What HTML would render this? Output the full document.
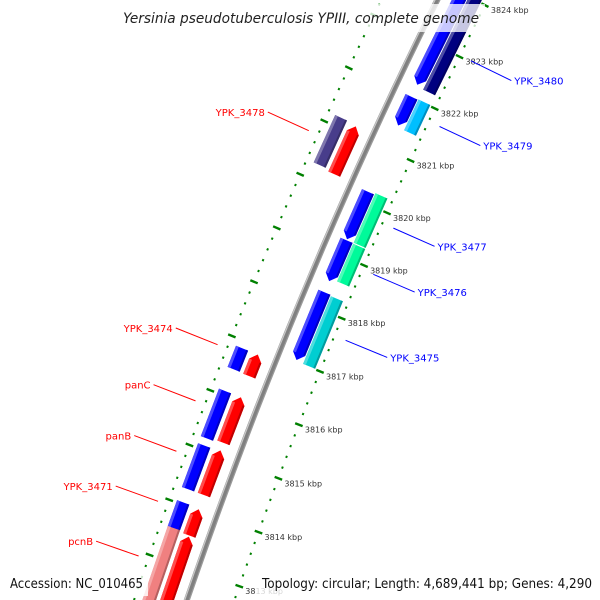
<!DOCTYPE html>
<html><head><meta charset="utf-8"><style>
html,body{margin:0;padding:0;background:#fff;width:600px;height:600px;overflow:hidden;}
svg{display:block;font-family:"DejaVu Sans","Liberation Sans",sans-serif;overflow:hidden;}
</style></head><body>
<svg id="map" width="600" height="600" viewBox="0 0 600 600" xmlns="http://www.w3.org/2000/svg">
<rect x="0" y="0" width="600" height="600" fill="#fff"/>
<g id="ticks"></g>
<g id="backbone"></g>
<g id="features"></g>
<g id="labels"></g>
<rect x="116" y="4" width="369" height="28" fill="#fff" fill-opacity="0.78"/>
<text x="123" y="23" font-size="14" font-style="italic" fill="#222" textLength="356" lengthAdjust="spacingAndGlyphs">Yersinia pseudotuberculosis YPIII, complete genome</text>
<rect x="4" y="572" width="144" height="24" fill="#fff" fill-opacity="0.8"/>
<text x="10" y="588" font-size="13" fill="#111" textLength="133" lengthAdjust="spacingAndGlyphs">Accession: NC_010465</text>
<rect x="256" y="572" width="340" height="24" fill="#fff" fill-opacity="0.8"/>
<text x="262" y="588" font-size="13" fill="#111" textLength="330" lengthAdjust="spacingAndGlyphs">Topology: circular; Length: 4,689,441 bp; Genes: 4,290</text>
</svg>
<script>
// ---- data ----
const featNames = ["YPK_3480","YPK_3480-cog","YPK_3479","YPK_3479-cog","YPK_3477","YPK_3477-cog","YPK_3476","YPK_3476-cog","YPK_3475","YPK_3475-cog","YPK_3478","YPK_3478-cog","YPK_3474","YPK_3474-cog","panC","panC-cog","panB","panB-cog","YPK_3471","YPK_3471-cog","pcnB","pcnB-cog"];
const featStart = [3822.24,3822.21,3821.46,3821.43,3819.30,3819.29,3818.51,3818.56,3817.03,3817.01,3820.24,3820.28,3816.47,3816.48,3815.24,3815.21,3814.28,3814.28,3813.54,3813.55,3811.5,3811.5];
const featEnd   = [3824.8,3824.8,3822.01,3822.02,3820.20,3820.23,3819.28,3819.27,3818.30,3818.28,3821.14,3821.17,3816.87,3816.87,3816.08,3816.08,3815.10,3815.08,3814.02,3814.04,3813.52,3813.57];
const featTrack = ["rin","rout","rin","rout","rin","rout","rin","rout","rin","rout","lin","lout","lin","lout","lin","lout","lin","lout","lin","lout","lin","lout"];
const featColor = ["#0000ff","#000080","#0000ff","#00bfff","#0000ff","#00fa9a","#0000ff","#00fa9a","#0000ff","#00ced1","#ff0000","#483d8b","#ff0000","#0000ff","#ff0000","#0000ff","#ff0000","#0000ff","#ff0000","#0000ff","#ff0000","#f08080"];
const labelNames = ["YPK_3480","YPK_3479","YPK_3477","YPK_3476","YPK_3475","YPK_3478","YPK_3474","panC","panB","YPK_3471","pcnB"];
const labelPos = [3823.02,3821.75,3819.8,3818.92,3817.67,3820.74,3816.77,3815.74,3814.82,3813.91,3812.92];
const labelSide = ["r","r","r","r","r","l","l","l","l","l","l"];
const tickValues = [3811,3812,3813,3814,3815,3816,3817,3818,3819,3820,3821,3822,3823,3824,3825];

// ---- axis ----
const CX=4914, CY=2220, R0=4997;
function ang(k){ return (-158.08 + (k-3817)*0.664)*Math.PI/180; }
function pt(k,r){ const a=ang(k); return [CX+r*Math.cos(a), CY+r*Math.sin(a)]; }
const TR = {rin:[4978,"rev"], rout:[4964,"none"], lin:[5016,"fwd"], lout:[5033,"none"]};
const HALF=6.5, HEAD=0.12;
const NS="http://www.w3.org/2000/svg";
function el(tag, parent){ const e=document.createElementNS(NS,tag); parent.appendChild(e); return e; }
function P(arr){ return arr.map(p=>p[0].toFixed(1)+","+p[1].toFixed(1)).join(" "); }
function shade(hex,f){ let n=parseInt(hex.slice(1),16); let c=[n>>16,(n>>8)&255,n&255];
  c=c.map(v=> f>0? Math.round(v+(255-v)*f) : Math.round(v*(1+f))); return "rgb("+c.join(",")+")"; }

// ticks
const tg=document.getElementById("ticks");
[4952,5047].forEach((rr,side)=>{
  for(let k=3810; k<=3826.001; k+=0.2){
    const kk=Math.round(k*10)/10;
    const major=Math.abs(kk-Math.round(kk))<1e-6;
    const a=pt(kk,major?rr-4:rr-1), b=pt(kk,major?rr+4:rr+1);
    const t=el("line",tg);
    
    
    t.setAttribute("x1",a[0]);t.setAttribute("y1",a[1]);t.setAttribute("x2",b[0]);t.setAttribute("y2",b[1]);
    t.setAttribute("stroke","#008000");t.setAttribute("stroke-width",major?"2.4":"2.2");
  }
});
tickValues.forEach(v=>{
  const p=pt(v,4952);
  const t=el("text",tg);
  
  
  t.setAttribute("x",p[0]+6);t.setAttribute("y",p[1]+8);
  t.setAttribute("font-size","8");t.setAttribute("fill","#333");
  t.textContent=v+" kbp";
});

// backbone
const bg=document.getElementById("backbone");
[[6,"#9a9a9a"],[3.5,"#808080"]].forEach(([w,c],i)=>{
  const pts=[]; for(let k=3810;k<=3826;k+=0.5) pts.push(pt(k,R0));
  const l=el("polyline",bg);
  
  
  l.setAttribute("points",P(pts));l.setAttribute("fill","none");l.setAttribute("stroke",c);l.setAttribute("stroke-width",w);
});
{ const pts=[]; for(let k=3810;k<=3826;k+=0.5) pts.push(pt(k,R0+2));
  const l=el("polyline",bg);
  
  
  l.setAttribute("points",P(pts));l.setAttribute("fill","none");l.setAttribute("stroke","#c8c8c8");l.setAttribute("stroke-width","1.2"); }

// features
const fg=document.getElementById("features");
function shape(k1,k2,rA,rB,dir){
  const rm=(rA+rB)/2;
  if(dir==="fwd") return [pt(k1,rA),pt(k2-HEAD,rA),pt(k2,rm),pt(k2-HEAD,rB),pt(k1,rB)];
  if(dir==="rev") return [pt(k2,rA),pt(k1+HEAD,rA),pt(k1,rm),pt(k1+HEAD,rB),pt(k2,rB)];
  return [pt(k1,rA),pt(k2,rA),pt(k2,rB),pt(k1,rB)];
}
featNames.forEach((n,i)=>{
  const tr=TR[featTrack[i]], rc=tr[0], dir=tr[1];
  const k1=featStart[i], k2=featEnd[i], col=featColor[i];
  const g=el("g",fg);
  
  
  const m=el("polygon",g);
  
  
  m.setAttribute("points",P(shape(k1,k2,rc-HALF,rc+HALF,dir)));m.setAttribute("fill",col);
  const a1 = dir==="rev"? k1+HEAD : k1, a2 = dir==="fwd"? k2-HEAD : k2;
  const hi=el("polygon",g);
  
  
  hi.setAttribute("points",P([pt(a1,rc+HALF),pt(a2,rc+HALF),pt(a2,rc+HALF-3),pt(a1,rc+HALF-3)]));hi.setAttribute("fill",shade(col,0.3));
  const dk=el("polygon",g);
  
  
  dk.setAttribute("points",P([pt(a1,rc-HALF),pt(a2,rc-HALF),pt(a2,rc-HALF+2),pt(a1,rc-HALF+2)]));dk.setAttribute("fill",shade(col,-0.25));
});

// labels
const lg=document.getElementById("labels");
labelNames.forEach((n,i)=>{
  const right=labelSide[i]==="r";
  const a=pt(labelPos[i], right?4940:5057), b=pt(labelPos[i], right?4895:5102);
  const col=right?"#0000ff":"#ff0000";
  const l=el("line",lg);
  
  
  l.setAttribute("x1",a[0]);l.setAttribute("y1",a[1]);l.setAttribute("x2",b[0]);l.setAttribute("y2",b[1]);
  l.setAttribute("stroke",col);l.setAttribute("stroke-width","1");
  const t=el("text",lg);
  
  
  t.setAttribute("x", right? b[0]+3 : b[0]-3); t.setAttribute("y", b[1]+4);
  t.setAttribute("text-anchor", right?"start":"end");
  t.setAttribute("font-size","10");t.setAttribute("fill",col);
  t.textContent=n;
});
</script>
</body></html>
